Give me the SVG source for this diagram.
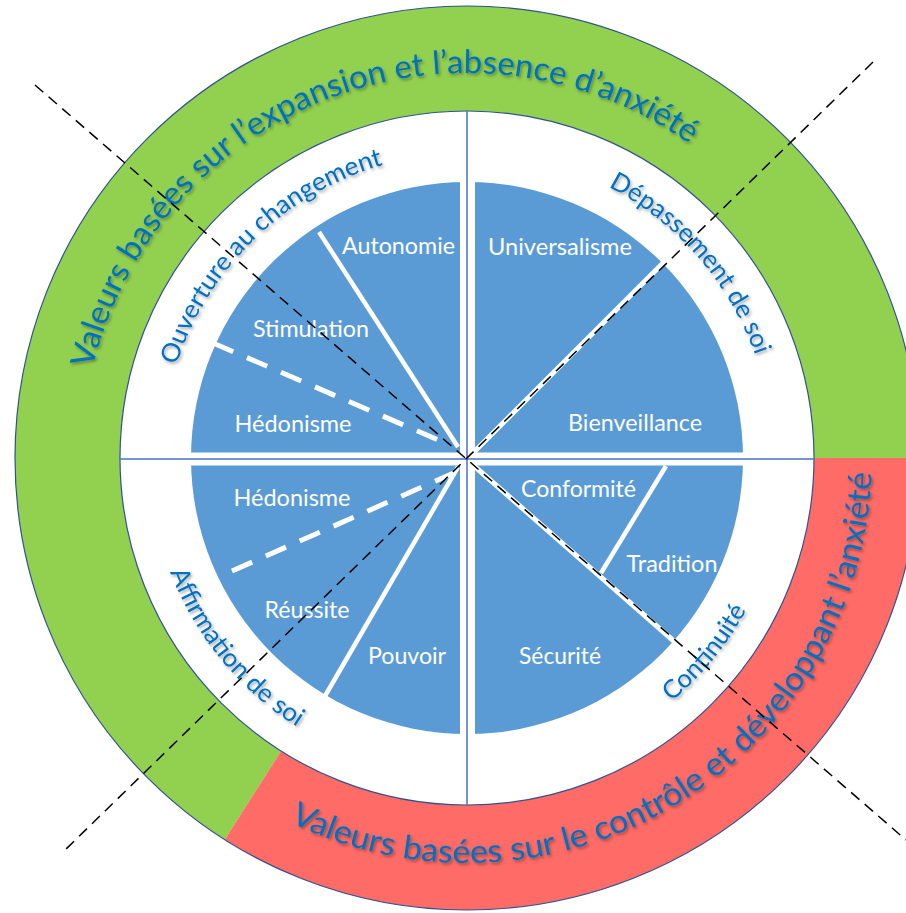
<svg xmlns="http://www.w3.org/2000/svg" width="906" height="913" viewBox="0 0 906 913">
  <defs>
    <style>
      .ring-text { font-family: Lato, "Liberation Sans", sans-serif; font-size: 32.5px; fill: #0070C0; filter: url(#sh); }
      .cat-text { font-family: Lato, "Liberation Sans", sans-serif; font-size: 25.5px; fill: #0070C0; filter: url(#sh); }
      .val { font-family: Lato, "Liberation Sans", sans-serif; font-size: 23px; fill: #ffffff; text-anchor: middle; }
      .outline { fill: none; stroke: #2F528F; stroke-width: 1.2; }
      .axis { stroke: #4472C4; stroke-width: 1.5; fill: none; }
      .div-solid { stroke: #ffffff; stroke-width: 4.5; fill: none; }
      .div-diag { stroke: #ffffff; stroke-width: 5; fill: none; }
      .div-dash { stroke: #ffffff; stroke-width: 5; fill: none; stroke-dasharray: 22 15; }
      .guide { stroke: #000000; stroke-width: 1.5; fill: none; stroke-dasharray: 11 7; }
    </style>
    <filter id="sh" x="-20%" y="-20%" width="140%" height="140%">
      <feDropShadow dx="1.5" dy="2" stdDeviation="1.5" flood-color="#000000" flood-opacity="0.35"/>
    </filter>
    <path id="pTop" d="M 92.5 368.8 A 385 385 0 0 1 761.9 210.5"/>
    <path id="pBot" d="M 289.5 822.0 A 405 405 0 0 0 865.8 387.7"/>
    <path id="pOuv" d="M 176.4 365.3 A 305 305 0 0 1 440.4 154.2"/>
    <path id="pDep" d="M 608.3 186.6 A 306 306 0 0 1 768.4 404.9"/>
    <path id="pAff" d="M 170.1 572.0 A 318 318 0 0 0 411.8 771.2"/>
    <path id="pCon" d="M 671.4 701.6 A 318 318 0 0 0 780.2 513.2"/>
  </defs>

  <rect width="906" height="913" fill="#ffffff"/>

  <g id="ring-expansion">
    <path d="M 224.8 839.6 A 452 452 0 1 1 919 458 L 814 458 A 347 347 0 1 0 281.1 751.0 Z" fill="#92D050"/>
  </g>
  <g id="ring-control">
    <path d="M 919 458 A 452 452 0 0 1 224.8 839.6 L 281.1 751.0 A 347 347 0 0 0 814 458 Z" fill="#FF6B66"/>
  </g>
  <g id="ring-outline">
    <circle class="outline" cx="467" cy="458" r="452"/>
    <circle cx="467" cy="458" r="347" fill="#ffffff" stroke="#2F528F" stroke-width="1.2"/>
  </g>

  <g id="pie">
    <circle cx="467" cy="458" r="276" fill="#5B9BD5"/>
    <rect x="460" y="170" width="15" height="580" fill="#ffffff"/>
    <rect x="180" y="452.5" width="575" height="13" fill="#ffffff"/>
  </g>

  <g id="dividers">
    <line class="div-solid" x1="319" y1="232" x2="458" y2="447"/>
    <line class="div-dash" x1="213" y1="343" x2="443" y2="442"/>
    <line class="div-dash" x1="232" y1="571" x2="456" y2="472"/>
    <line class="div-solid" x1="325" y1="696" x2="458" y2="467"/>
    <line class="div-solid" x1="666" y1="466" x2="601" y2="573"/>
    <line class="div-diag" x1="473" y1="465" x2="676" y2="643"/>
    <line class="div-diag" x1="474" y1="452" x2="666" y2="260"/>
  </g>

  <g id="axes">
    <line class="axis" x1="467" y1="111" x2="467" y2="805"/>
    <line class="axis" x1="120" y1="459" x2="814" y2="459"/>
  </g>

  <g id="node-expansion-label">
    <text class="ring-text"><textPath href="#pTop" textLength="752" lengthAdjust="spacingAndGlyphs">Valeurs basées sur l’expansion et l’absence d’anxiété</textPath></text>
  </g>
  <g id="node-control-label">
    <text class="ring-text"><textPath href="#pBot" textLength="805" lengthAdjust="spacingAndGlyphs">Valeurs basées sur le contrôle et développant l’anxiété</textPath></text>
  </g>

  <g id="node-ouverture">
    <text class="cat-text"><textPath href="#pOuv" textLength="300" lengthAdjust="spacingAndGlyphs">Ouverture au changement</textPath></text>
  </g>
  <g id="node-depassement">
    <text class="cat-text"><textPath href="#pDep" textLength="229" lengthAdjust="spacingAndGlyphs">Dépassement de soi</textPath></text>
  </g>
  <g id="node-affirmation">
    <text class="cat-text"><textPath href="#pAff" textLength="204" lengthAdjust="spacingAndGlyphs">Affirmation de soi</textPath></text>
  </g>
  <g id="node-continuite">
    <text class="cat-text"><textPath href="#pCon" textLength="119" lengthAdjust="spacingAndGlyphs">Continuité</textPath></text>
  </g>

  <g id="node-autonomie"><text class="val" x="398.5" y="254" textLength="113" lengthAdjust="spacingAndGlyphs">Autonomie</text></g>
  <g id="node-universalisme"><text class="val" x="560" y="255" textLength="144" lengthAdjust="spacingAndGlyphs">Universalisme</text></g>
  <g id="node-stimulation"><text class="val" x="311" y="337" textLength="116" lengthAdjust="spacingAndGlyphs">Stimulation</text></g>
  <g id="node-hedonisme-1"><text class="val" x="293" y="432" textLength="117" lengthAdjust="spacingAndGlyphs">Hédonisme</text></g>
  <g id="node-bienveillance"><text class="val" x="635" y="431" textLength="134" lengthAdjust="spacingAndGlyphs">Bienveillance</text></g>
  <g id="node-hedonisme-2"><text class="val" x="292" y="506" textLength="117" lengthAdjust="spacingAndGlyphs">Hédonisme</text></g>
  <g id="node-conformite"><text class="val" x="578.5" y="497" textLength="115" lengthAdjust="spacingAndGlyphs">Conformité</text></g>
  <g id="node-tradition"><text class="val" x="672" y="572" textLength="91" lengthAdjust="spacingAndGlyphs">Tradition</text></g>
  <g id="node-reussite"><text class="val" x="307" y="618" textLength="85" lengthAdjust="spacingAndGlyphs">Réussite</text></g>
  <g id="node-pouvoir"><text class="val" x="407" y="664" textLength="78" lengthAdjust="spacingAndGlyphs">Pouvoir</text></g>
  <g id="node-securite"><text class="val" x="560" y="664" textLength="82" lengthAdjust="spacingAndGlyphs">Sécurité</text></g>

  <g id="connectors">
    <line class="guide" x1="35" y1="85" x2="906" y2="840"/>
    <line class="guide" x1="873" y1="62" x2="62" y2="853"/>
  </g>
</svg>
